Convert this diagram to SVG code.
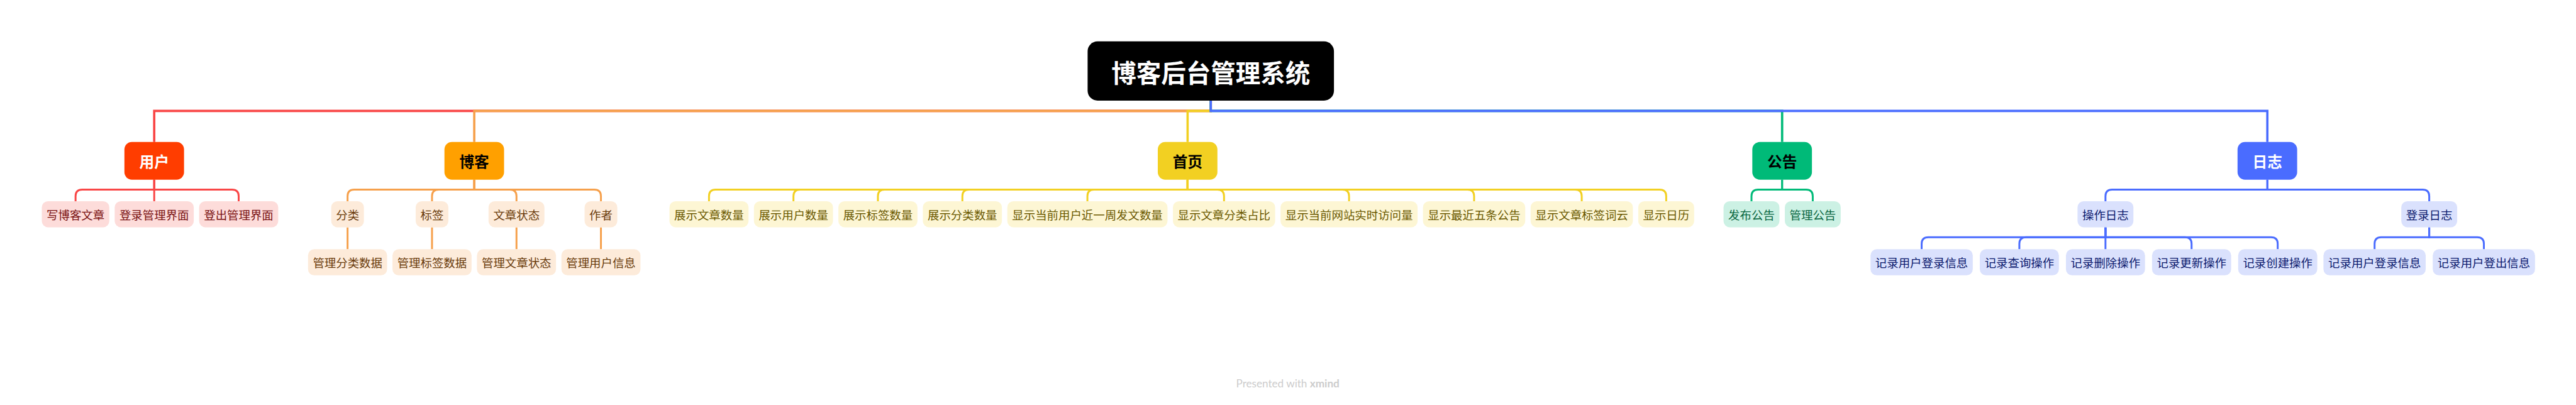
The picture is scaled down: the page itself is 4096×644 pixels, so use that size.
<svg xmlns="http://www.w3.org/2000/svg" width="4096" height="644" viewBox="0 0 4096 644">
<style>
text{font-family:"Noto Sans CJK SC","Noto Sans",sans-serif;text-anchor:middle;dominant-baseline:central}
.rt{font-size:60px;font-weight:700;fill:#fff}
.l1{font-size:36px;font-weight:700}
.l2{font-size:28px}
.c path{fill:none;stroke-linejoin:miter}
.m{stroke-width:5.5}
.s{stroke-width:4.5}
.red{stroke:#F94646}.org{stroke:#F6A04B}.yel{stroke:#F2D022}.grn{stroke:#00BA78}.blu{stroke:#4A6CFF}
.pk rect{fill:#FDDCDA}.pk text{fill:#7A1212}
.pc rect{fill:#FDEBDA}.pc text{fill:#6A3B0C}
.yl rect{fill:#FDF6D4}.yl text{fill:#6B5900}
.mt rect{fill:#CCF1E4}.mt text{fill:#08663F}
.lv rect{fill:#DAE1FD}.lv text{fill:#0C1A6E}
.wm{font-family:Lato,"Open Sans",sans-serif;font-size:26px;fill:#CCCCCC;dominant-baseline:auto}
</style>
<rect width="4096" height="644" fill="#fff"/>
<g transform="scale(0.658309)">
<g id="connectors" class="c">
<path class="m red" d="M2924.5 243V268H372.5V343"/>
<path class="m org" d="M2924.5 243V268H1145.5V343"/>
<path class="m yel" d="M2924.5 243V268H2868.5V343"/>
<path class="m grn" d="M2924.5 243V268H4304.5V343"/>
<path class="m blu" d="M2924.5 243V268H5476.5V343"/>
<!-- 用户 -->
<path class="s red" d="M372.5 434V458H198.5Q182.5 458 182.5 474V486"/>
<path class="s red" d="M372.5 434V486"/>
<path class="s red" d="M372.5 434V458H560.5Q576.5 458 576.5 474V486"/>
<!-- 博客 -->
<path class="s org" d="M1145.5 434V458H855.5Q839.5 458 839.5 474V486"/>
<path class="s org" d="M1145.5 434V458H1059.5Q1043.5 458 1043.5 474V486"/>
<path class="s org" d="M1145.5 434V458H1231.5Q1247.5 458 1247.5 474V486"/>
<path class="s org" d="M1145.5 434V458H1435.5Q1451.5 458 1451.5 474V486"/>
<path class="s org" d="M839.5 549V602M1043.5 549V602M1247.5 549V602M1451.5 549V602"/>
<!-- 首页 -->
<path class="s yel" d="M2868.5 434V458H1728.5Q1712.5 458 1712.5 474V486"/>
<path class="s yel" d="M2868.5 434V458H1932.5Q1916.5 458 1916.5 474V486"/>
<path class="s yel" d="M2868.5 434V458H2136.5Q2120.5 458 2120.5 474V486"/>
<path class="s yel" d="M2868.5 434V458H2340.5Q2324.5 458 2324.5 474V486"/>
<path class="s yel" d="M2868.5 434V458H2642.5Q2626.5 458 2626.5 474V486"/>
<path class="s yel" d="M2868.5 434V458H2940.5Q2956.5 458 2956.5 474V486"/>
<path class="s yel" d="M2868.5 434V458H3242.5Q3258.5 458 3258.5 474V486"/>
<path class="s yel" d="M2868.5 434V458H3544.5Q3560.5 458 3560.5 474V486"/>
<path class="s yel" d="M2868.5 434V458H3804.5Q3820.5 458 3820.5 474V486"/>
<path class="s yel" d="M2868.5 434V458H4008.5Q4024.5 458 4024.5 474V486"/>
<!-- 公告 -->
<path class="s grn" d="M4304.5 434V458H4246.5Q4230.5 458 4230.5 474V486"/>
<path class="s grn" d="M4304.5 434V458H4362.5Q4378.5 458 4378.5 474V486"/>
<!-- 日志 -->
<path class="s blu" d="M5476.5 434V458H5101.5Q5085.5 458 5085.5 474V486"/>
<path class="s blu" d="M5476.5 434V458H5851.5Q5867.5 458 5867.5 474V486"/>
<path class="s blu" d="M5085.5 549V573H4657.5Q4641.5 573 4641.5 589V602"/>
<path class="s blu" d="M5085.5 549V573H4893.5Q4877.5 573 4877.5 589V602"/>
<path class="s blu" d="M5085.5 549V602"/>
<path class="s blu" d="M5085.5 549V573H5277.5Q5293.5 573 5293.5 589V602"/>
<path class="s blu" d="M5085.5 549V573H5485.5Q5501.5 573 5501.5 589V602"/>
<path class="s blu" d="M5867.5 549V573H5751.5Q5735.5 573 5735.5 589V602"/>
<path class="s blu" d="M5867.5 549V573H5983.5Q5999.5 573 5999.5 589V602"/>
</g>
<g id="root"><rect x="2627" y="100" width="595" height="143" rx="24" fill="#000"/><text class="rt" x="2924.5" y="172">博客后台管理系统</text></g>
<g id="n-user"><rect x="300.5" y="343" width="144" height="91" rx="18" fill="#FF3D00"/><text class="l1" x="372.5" y="389" fill="#fff">用户</text></g>
<g id="n-blog"><rect x="1073.5" y="343" width="144" height="91" rx="18" fill="#FFA000"/><text class="l1" x="1145.5" y="389" fill="#000">博客</text></g>
<g id="n-home"><rect x="2796.5" y="343" width="144" height="91" rx="18" fill="#F2D022"/><text class="l1" x="2868.5" y="389" fill="#000">首页</text></g>
<g id="n-notice"><rect x="4232.5" y="343" width="144" height="91" rx="18" fill="#00BA78"/><text class="l1" x="4304.5" y="389" fill="#000">公告</text></g>
<g id="n-log"><rect x="5404.5" y="343" width="144" height="91" rx="18" fill="#4A6CFF"/><text class="l1" x="5476.5" y="389" fill="#fff">日志</text></g>

<g class="pk">
<g id="u1"><rect x="101" y="486" width="163" height="63" rx="15"/><text class="l2" x="182.5" y="518">写博客文章</text></g>
<g id="u2"><rect x="277" y="486" width="191" height="63" rx="15"/><text class="l2" x="372.5" y="518">登录管理界面</text></g>
<g id="u3"><rect x="481" y="486" width="191" height="63" rx="15"/><text class="l2" x="576.5" y="518">登出管理界面</text></g>
</g>
<g class="pc">
<g id="b1"><rect x="800" y="486" width="79" height="63" rx="15"/><text class="l2" x="839.5" y="518">分类</text></g>
<g id="b2"><rect x="1004" y="486" width="79" height="63" rx="15"/><text class="l2" x="1043.5" y="518">标签</text></g>
<g id="b3"><rect x="1180" y="486" width="135" height="63" rx="15"/><text class="l2" x="1247.5" y="518">文章状态</text></g>
<g id="b4"><rect x="1412" y="486" width="79" height="63" rx="15"/><text class="l2" x="1451.5" y="518">作者</text></g>
<g id="b1a"><rect x="744" y="602" width="191" height="63" rx="15"/><text class="l2" x="839.5" y="634">管理分类数据</text></g>
<g id="b2a"><rect x="948" y="602" width="191" height="63" rx="15"/><text class="l2" x="1043.5" y="634">管理标签数据</text></g>
<g id="b3a"><rect x="1152" y="602" width="191" height="63" rx="15"/><text class="l2" x="1247.5" y="634">管理文章状态</text></g>
<g id="b4a"><rect x="1356" y="602" width="191" height="63" rx="15"/><text class="l2" x="1451.5" y="634">管理用户信息</text></g>
</g>
<g class="yl">
<g id="h1"><rect x="1617" y="486" width="191" height="63" rx="15"/><text class="l2" x="1712.5" y="518">展示文章数量</text></g>
<g id="h2"><rect x="1821" y="486" width="191" height="63" rx="15"/><text class="l2" x="1916.5" y="518">展示用户数量</text></g>
<g id="h3"><rect x="2025" y="486" width="191" height="63" rx="15"/><text class="l2" x="2120.5" y="518">展示标签数量</text></g>
<g id="h4"><rect x="2229" y="486" width="191" height="63" rx="15"/><text class="l2" x="2324.5" y="518">展示分类数量</text></g>
<g id="h5"><rect x="2433" y="486" width="387" height="63" rx="15"/><text class="l2" x="2626.5" y="518">显示当前用户近一周发文数量</text></g>
<g id="h6"><rect x="2833" y="486" width="247" height="63" rx="15"/><text class="l2" x="2956.5" y="518">显示文章分类占比</text></g>
<g id="h7"><rect x="3093" y="486" width="331" height="63" rx="15"/><text class="l2" x="3258.5" y="518">显示当前网站实时访问量</text></g>
<g id="h8"><rect x="3437" y="486" width="247" height="63" rx="15"/><text class="l2" x="3560.5" y="518">显示最近五条公告</text></g>
<g id="h9"><rect x="3697" y="486" width="247" height="63" rx="15"/><text class="l2" x="3820.5" y="518">显示文章标签词云</text></g>
<g id="h10"><rect x="3957" y="486" width="135" height="63" rx="15"/><text class="l2" x="4024.5" y="518">显示日历</text></g>
</g>
<g class="mt">
<g id="g1"><rect x="4163" y="486" width="135" height="63" rx="15"/><text class="l2" x="4230.5" y="518">发布公告</text></g>
<g id="g2"><rect x="4311" y="486" width="135" height="63" rx="15"/><text class="l2" x="4378.5" y="518">管理公告</text></g>
</g>
<g class="lv">
<g id="r1"><rect x="5018" y="486" width="135" height="63" rx="15"/><text class="l2" x="5085.5" y="518">操作日志</text></g>
<g id="r2"><rect x="5800" y="486" width="135" height="63" rx="15"/><text class="l2" x="5867.5" y="518">登录日志</text></g>
<g id="r1a"><rect x="4518" y="602" width="247" height="63" rx="15"/><text class="l2" x="4641.5" y="634">记录用户登录信息</text></g>
<g id="r1b"><rect x="4782" y="602" width="191" height="63" rx="15"/><text class="l2" x="4877.5" y="634">记录查询操作</text></g>
<g id="r1c"><rect x="4990" y="602" width="191" height="63" rx="15"/><text class="l2" x="5085.5" y="634">记录删除操作</text></g>
<g id="r1d"><rect x="5198" y="602" width="191" height="63" rx="15"/><text class="l2" x="5293.5" y="634">记录更新操作</text></g>
<g id="r1e"><rect x="5406" y="602" width="191" height="63" rx="15"/><text class="l2" x="5501.5" y="634">记录创建操作</text></g>
<g id="r2a"><rect x="5612" y="602" width="247" height="63" rx="15"/><text class="l2" x="5735.5" y="634">记录用户登录信息</text></g>
<g id="r2b"><rect x="5876" y="602" width="247" height="63" rx="15"/><text class="l2" x="5999.5" y="634">记录用户登出信息</text></g>
</g>
<text class="wm" x="3110.5" y="936">Presented with <tspan font-weight="700">xmind</tspan></text>
</g>
</svg>
